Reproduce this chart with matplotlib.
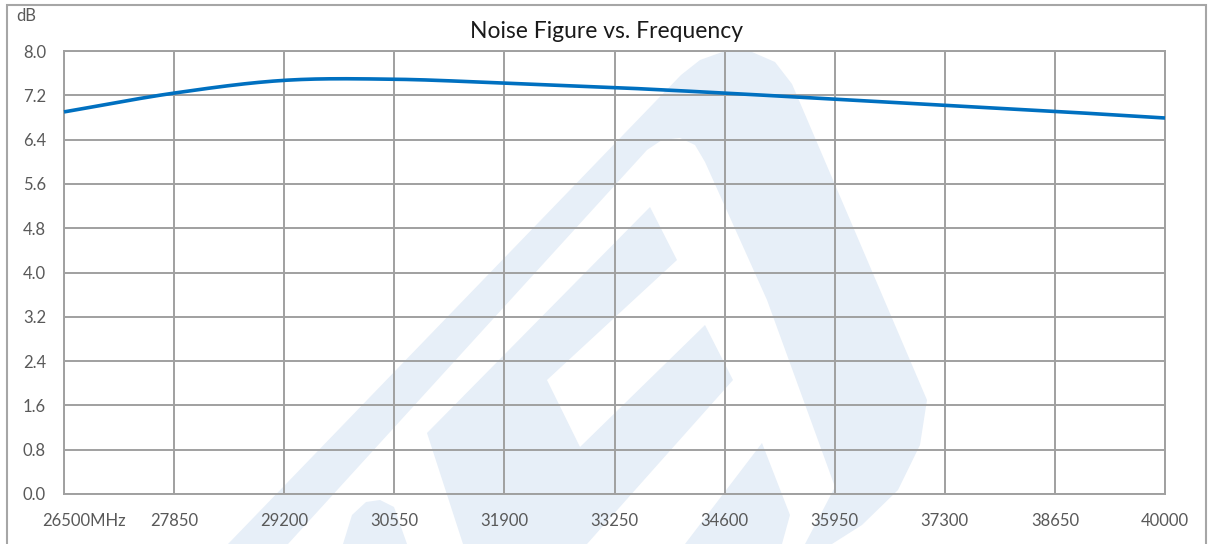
import numpy as np
import matplotlib
matplotlib.use("Agg")
import matplotlib.pyplot as plt
from matplotlib.patches import Polygon, Rectangle
from matplotlib.transforms import ScaledTranslation

# ---- data ----
freq_mhz = [26500, 27850, 29200, 30550, 31900, 33250, 34600, 35950, 37300, 38650, 40000]
noise_figure_db = [6.90, 7.24, 7.47, 7.49, 7.42, 7.34, 7.24, 7.13, 7.02, 6.91, 6.79]
x_tick_labels = ["26500MHz", "27850", "29200", "30550", "31900", "33250",
                 "34600", "35950", "37300", "38650", "40000"]
y_ticks = [0.0, 0.8, 1.6, 2.4, 3.2, 4.0, 4.8, 5.6, 6.4, 7.2, 8.0]
title = "Noise Figure vs. Frequency"
y_unit = "dB"

W, H = 1212, 544
plt.rcParams['font.family'] = ['Lato', 'DejaVu Sans']

fig = plt.figure(figsize=(W / 100, H / 100), dpi=100)
fig.patch.set_facecolor("white")

def px(x, y):
    return (x / W, 1 - y / H)

# ---- watermark (decorative) ----
wm = "#e7eff8"
outer = [(228, 544), (681, 75), (700, 60), (725, 51), (752, 52), (775, 62), (792, 84),
         (927, 400), (920, 445), (898, 490), (862, 525), (832, 544)]
hole = [(288, 544), (647, 150), (662, 140), (680, 138), (695, 145), (705, 162),
        (767, 300), (835, 487), (805, 544)]
chevron = [(463, 544), (427, 433), (650, 207), (677, 260), (547, 380), (580, 447),
           (705, 325), (733, 380), (587, 544)]
stripe = [(685, 544), (762, 443), (790, 515), (782, 544)]
bump = [(343, 544), (352, 515), (366, 502), (380, 500), (394, 507), (407, 544)]
for pts, col in [(outer, wm), (hole, "white"), (chevron, wm), (stripe, wm), (bump, wm)]:
    fig.add_artist(Polygon([px(*p) for p in pts], closed=True, facecolor=col,
                           edgecolor="none", transform=fig.transFigure, zorder=-5))

# outer chart border
fig.add_artist(Rectangle(px(7, 560), 1199 / W, 555 / H, transform=fig.transFigure,
                         facecolor="none", edgecolor="#a6a6a6", lw=1.5, zorder=-1))

# ---- axes ----
L, R, T, B = 64, 1165, 51, 494
ax = fig.add_axes([L / W, 1 - B / H, (R - L) / W, (B - T) / H])
ax.set_facecolor("none")

# smooth curve (Catmull-Rom through the read points)
x = np.array(freq_mhz, float)
y = np.array(noise_figure_db, float)
xp = np.concatenate([[2 * x[0] - x[1]], x, [2 * x[-1] - x[-2]]])
yp = np.concatenate([[2 * y[0] - y[1]], y, [2 * y[-1] - y[-2]]])
xs, ys = [], []
t = np.linspace(0, 1, 40)
for i in range(1, len(xp) - 2):
    p0, p1, p2, p3 = [np.array([xp[j], yp[j]]) for j in range(i - 1, i + 3)]
    tt = t[:, None]
    pts = 0.5 * ((2 * p1) + (-p0 + p2) * tt + (2 * p0 - 5 * p1 + 4 * p2 - p3) * tt ** 2
                 + (-p0 + 3 * p1 - 3 * p2 + p3) * tt ** 3)
    xs.extend(pts[:, 0]); ys.extend(pts[:, 1])
ax.plot(xs, ys, color="#0070C0", lw=2.6, solid_capstyle="butt", zorder=3, clip_on=False)

ax.set_xlim(freq_mhz[0], freq_mhz[-1])
ax.set_ylim(0, 8.0)
ax.set_xticks(freq_mhz)
ax.set_xticklabels(x_tick_labels)
ax.set_yticks(y_ticks)
ax.set_yticklabels([f"{v:.1f}" for v in y_ticks])

gc = "#a0a0a0"
ax.grid(True, color=gc, lw=1.4)
ax.set_axisbelow(True)
for s in ax.spines.values():
    s.set_color(gc)
    s.set_linewidth(1.4)
ax.tick_params(length=0, labelsize=12, labelcolor="#595959")
ax.tick_params(axis="y", pad=13)
ax.tick_params(axis="x", pad=14)

# first x label shifted right like the reference
lbl0 = ax.get_xticklabels()[0]
lbl0.set_transform(lbl0.get_transform() + ScaledTranslation(20 / 100, 0, fig.dpi_scale_trans))

fig.text(*px(606, 31), title, ha="center", va="center", fontsize=16.5, color="#1a1a1a")
fig.text(*px(16, 16), y_unit, ha="left", va="center", fontsize=12, color="#595959")

fig.savefig("out.png", dpi=100)
